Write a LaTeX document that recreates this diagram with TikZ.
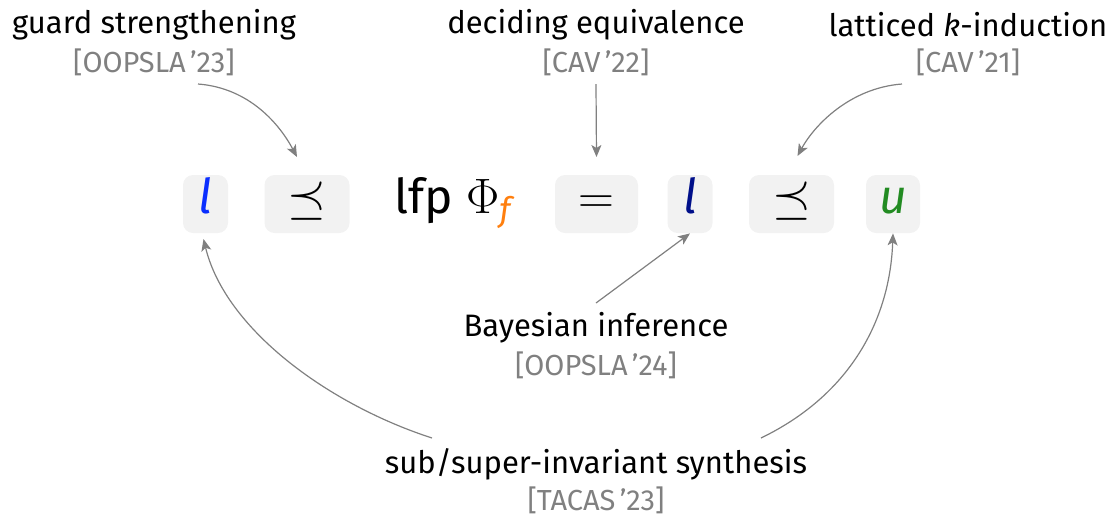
\documentclass[tikz,border=0pt]{standalone}
\usepackage{amsmath}
\usepackage{fontspec}
\setmainfont{Fira Sans}
\usetikzlibrary{arrows.meta}
\definecolor{boxgray}{HTML}{F2F2F2}
\definecolor{citegray}{HTML}{808080}
\definecolor{lowblue}{HTML}{0A2EFF}
\definecolor{midnavy}{HTML}{000F8A}
\definecolor{upgreen}{HTML}{228B22}
\definecolor{fixorange}{HTML}{FF7F0E}
\newcommand{\citetag}[1]{\textcolor{citegray}{[#1]}}

\begin{document}
\begin{tikzpicture}[x=0.5pt,y=-0.5pt,
    term/.style={fill=boxgray, rounded corners=5pt, inner sep=0pt,
      minimum height=29pt, text height=14pt, text depth=5pt,
      font=\fontsize{24}{28}\selectfont},
    topic/.style={font=\fontsize{15.5}{18}\selectfont},
    venue/.style={font=\fontsize{14.5}{17}\selectfont},
    conn/.style={draw=citegray, line width=0.6pt,
      -{Stealth[length=6pt,width=5pt,inset=1.5pt]}}]
  \useasboundingbox (0,0) rectangle (1116,521);
  % the inequality chain
  \node[term, minimum width=22.5pt] (lo)   at (205.5,204) {\textcolor{lowblue}{\textit{l}}};
  \node[term, minimum width=42.5pt] (pre1) at (307,204)   {$\preceq$};
  \node[term, fill=none]            (lfp)  at (453,204)   {lfp $\Phi_{\textcolor{fixorange}{\textit{f}}}$};
  \node[term, minimum width=41.5pt] (eq)   at (596.5,204) {$=$};
  \node[term, minimum width=22.5pt] (mid)  at (690,204)   {\textcolor{midnavy}{\textit{l}}};
  \node[term, minimum width=42.5pt] (pre2) at (791.5,204) {$\preceq$};
  \node[term, minimum width=27pt]   (up)   at (893,204)   {\textcolor{upgreen}{\textit{u}}};
  % labels
  \node[topic] (gs)     at (154,25)  {guard strengthening};
  \node[venue] (gscite) at (154,62)  {\citetag{OOPSLA\hspace{0.15em}’23}};
  \node[topic] (de)     at (596,25)  {deciding equivalence};
  \node[venue] (decite) at (596,62)  {\citetag{CAV\hspace{0.15em}’22}};
  \node[topic] (lk)     at (968,25)  {latticed \textit{k}-induction};
  \node[venue] (lkcite) at (968,62)  {\citetag{CAV\hspace{0.15em}’21}};
  \node[topic] (bi)     at (596,328) {Bayesian inference};
  \node[venue] (bicite) at (596,365) {\citetag{OOPSLA\hspace{0.15em}’24}};
  \node[topic] (ss)     at (596,464) {sub/super-invariant synthesis};
  \node[venue] (sscite) at (596,500) {\citetag{TACAS\hspace{0.15em}’23}};
  % connectors
  \draw[conn] ([shift={(44,22)}]gscite.center) .. controls ([shift={(96,26)}]gscite.center) and ([shift={(-27,-79)}]pre1.center) .. ([shift={(-10,-47)}]pre1.center);
  \draw[conn] ([shift={(0,22)}]decite.center) -- ([shift={(0,-47)}]eq.center);
  \draw[conn] ([shift={(-66,22)}]lkcite.center) .. controls ([shift={(-118,26)}]lkcite.center) and ([shift={(23,-79)}]pre2.center) .. ([shift={(6,-48)}]pre2.center);
  \draw[conn] ([shift={(0,-25)}]bi.center) -- (mid.south);
  \draw[conn] ([shift={(-164,-26)}]ss.center) .. controls ([shift={(-266,-59)}]ss.center) and ([shift={(20,126)}]lo.center) .. ([shift={(-2,35)}]lo.center);
  \draw[conn] ([shift={(165,-26)}]ss.center) .. controls ([shift={(254,-69)}]ss.center) and ([shift={(-3,116)}]up.center) .. (up.south);
\end{tikzpicture}
\end{document}
